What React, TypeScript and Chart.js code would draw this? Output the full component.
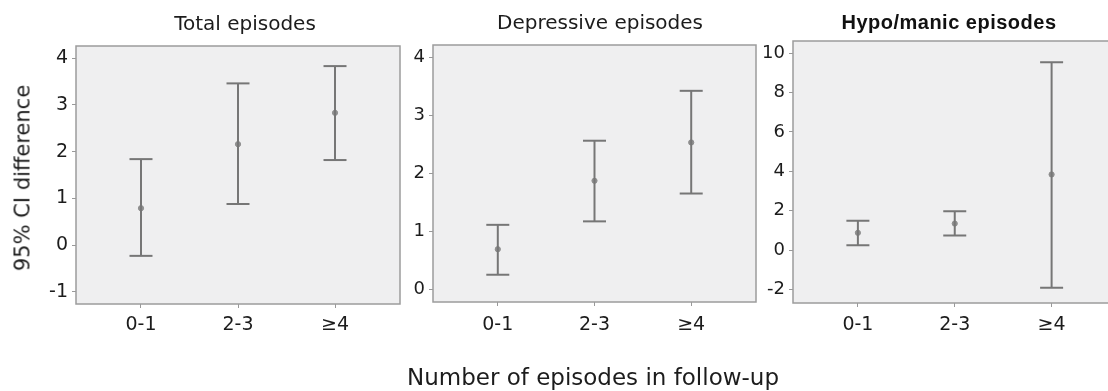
import React, { useEffect, useRef } from 'react';
import { Chart, registerables } from 'chart.js';

Chart.register(...registerables);

// ---- data ----
const categories = ['0-1', '2-3', '≥4'];

const totalMean = [0.79, 2.16, 2.83];
const totalLower = [-0.23, 0.88, 1.82];
const totalUpper = [1.84, 3.46, 3.83];
const totalTicks = [-1, 0, 1, 2, 3, 4];

const depMean = [0.70, 1.88, 2.54];
const depLower = [0.26, 1.18, 1.66];
const depUpper = [1.12, 2.57, 3.43];
const depTicks = [0, 1, 2, 3, 4];

const hypoMean = [0.88, 1.35, 3.84];
const hypoLower = [0.25, 0.74, -1.91];
const hypoUpper = [1.49, 1.98, 9.53];
const hypoTicks = [-2, 0, 2, 4, 6, 8, 10];

const panelTitles = ['Total episodes', 'Depressive episodes', 'Hypo/manic episodes'];
const yAxisTitle = '95% CI difference';
const xAxisTitle = 'Number of episodes in follow-up';

// ---- layout ----
const W = 1108;
const H = 391;
const Y_AXIS_W = 40;
const X_AXIS_H = 40;
const FONT = '"DejaVu Sans", "Open Sans", sans-serif';
const LINE = '#767676';
const DOT = '#8e8e8e';
const BG = '#efeff0';
const FRAME = '#9c9c9c';

type Panel = {
  area: { left: number; right: number; top: number; bottom: number };
  canvasW: number;
  yMin: number;
  yMax: number;
  yTicks: number[];
  mean: number[];
  lower: number[];
  upper: number[];
  tickFont: number;
  xPad: number;
};

const panels: Panel[] = [
  { area: { left: 76, right: 400, top: 46, bottom: 304 }, canvasW: W, yMin: -1.26, yMax: 4.26, yTicks: totalTicks, mean: totalMean, lower: totalLower, upper: totalUpper, tickFont: 19, xPad: 6 },
  { area: { left: 433, right: 756, top: 45, bottom: 302 }, canvasW: W, yMin: -0.21, yMax: 4.22, yTicks: depTicks, mean: depMean, lower: depLower, upper: depUpper, tickFont: 18, xPad: 8 },
  { area: { left: 793, right: 1118, top: 41, bottom: 303 }, canvasW: 1130, yMin: -2.68, yMax: 10.61, yTicks: hypoTicks, mean: hypoMean, lower: hypoLower, upper: hypoUpper, tickFont: 18, xPad: 7 },
];

const framePlugin = {
  id: 'panelFrame',
  beforeDraw(chart: any) {
    const { ctx, chartArea: a } = chart;
    ctx.save();
    ctx.fillStyle = BG;
    ctx.fillRect(a.left, a.top, a.right - a.left, a.bottom - a.top);
    ctx.restore();
  },
  beforeDatasetsDraw(chart: any) {
    const { ctx, chartArea: a } = chart;
    ctx.save();
    ctx.strokeStyle = FRAME;
    ctx.lineWidth = 1.5;
    ctx.strokeRect(a.left, a.top, a.right - a.left, a.bottom - a.top);
    ctx.restore();
  },
};

function PanelChart({ p }: { p: Panel }) {
  const ref = useRef<HTMLCanvasElement>(null);
  useEffect(() => {
    if (!ref.current) return;
    const datasets: any[] = categories.map((_, i) => ({
      type: 'line',
      data: [
        { x: i, y: p.lower[i] },
        { x: i, y: p.upper[i] },
      ],
      borderColor: LINE,
      borderWidth: 2,
      pointStyle: 'line',
      pointRadius: 11.5,
      pointBorderColor: LINE,
      pointBorderWidth: 2,
      pointHoverRadius: 11.5,
      fill: false,
    }));
    datasets.push({
      type: 'scatter',
      data: categories.map((_, i) => ({ x: i, y: p.mean[i] })),
      pointStyle: 'circle',
      pointRadius: 2.6,
      backgroundColor: DOT,
      borderColor: DOT,
      borderWidth: 1,
    });
    const chart = new Chart(ref.current, {
      type: 'line',
      data: { datasets },
      plugins: [framePlugin],
      options: {
        animation: false,
        responsive: false,
        events: [],
        layout: {
          padding: {
            left: p.area.left - Y_AXIS_W,
            right: p.canvasW - p.area.right,
            top: p.area.top,
            bottom: H - p.area.bottom - X_AXIS_H,
          },
        },
        plugins: { legend: { display: false }, tooltip: { enabled: false }, title: { display: false } },
        scales: {
          x: {
            type: 'linear',
            min: -0.67,
            max: 2.67,
            afterBuildTicks: (s: any) => {
              s.ticks = categories.map((_, i) => ({ value: i }));
            },
            afterFit: (s: any) => {
              s.height = X_AXIS_H;
            },
            ticks: {
              callback: (v: any) => categories[Math.round(Number(v))] ?? '',
              font: { family: FONT, size: 19 },
              color: '#1c1c1c',
              padding: p.xPad,
              maxRotation: 0,
            },
            grid: { drawOnChartArea: false, drawTicks: true, tickLength: 4, color: '#999' },
            border: { display: false },
          },
          y: {
            type: 'linear',
            min: p.yMin,
            max: p.yMax,
            afterBuildTicks: (s: any) => {
              s.ticks = p.yTicks.map((v) => ({ value: v }));
            },
            afterFit: (s: any) => {
              s.width = Y_AXIS_W;
            },
            ticks: {
              callback: (v: any) => String(v),
              font: { family: FONT, size: p.tickFont },
              color: '#1c1c1c',
              padding: 4,
            },
            grid: { drawOnChartArea: false, drawTicks: true, tickLength: 4, color: '#999' },
            border: { display: false },
          },
        },
      } as any,
    });
    return () => chart.destroy();
  }, [p]);
  return (
    <canvas
      ref={ref}
      width={p.canvasW}
      height={H}
      style={{ position: 'absolute', left: 0, top: 0, width: p.canvasW, height: H }}
    />
  );
}

const textBase: React.CSSProperties = {
  position: 'absolute',
  whiteSpace: 'nowrap',
  color: '#1c1c1c',
  transform: 'translate(-50%, -50%)',
  lineHeight: 1,
};

export default function App() {
  useEffect(() => {
    document.body.style.margin = '0';
  }, []);
  return (
    <div style={{ position: 'relative', width: W, height: H, overflow: 'hidden', background: '#fff' }}>
      {panels.map((p, i) => (
        <PanelChart key={i} p={p} />
      ))}
      <div style={{ ...textBase, left: 245, top: 23, fontFamily: FONT, fontSize: 20 }}>{panelTitles[0]}</div>
      <div style={{ ...textBase, left: 600, top: 22, fontFamily: FONT, fontSize: 20 }}>{panelTitles[1]}</div>
      <div style={{ ...textBase, left: 949, top: 22, fontFamily: '"Liberation Sans", Arial, sans-serif', fontWeight: 'bold', fontSize: 20, letterSpacing: 0.5, color: '#111' }}>{panelTitles[2]}</div>
      <div style={{ ...textBase, left: 23, top: 178, fontFamily: FONT, fontSize: 21, transform: 'translate(-50%, -50%) rotate(-90deg)' }}>{yAxisTitle}</div>
      <div style={{ ...textBase, left: 593, top: 377, fontFamily: FONT, fontSize: 23 }}>{xAxisTitle}</div>
    </div>
  );
}
